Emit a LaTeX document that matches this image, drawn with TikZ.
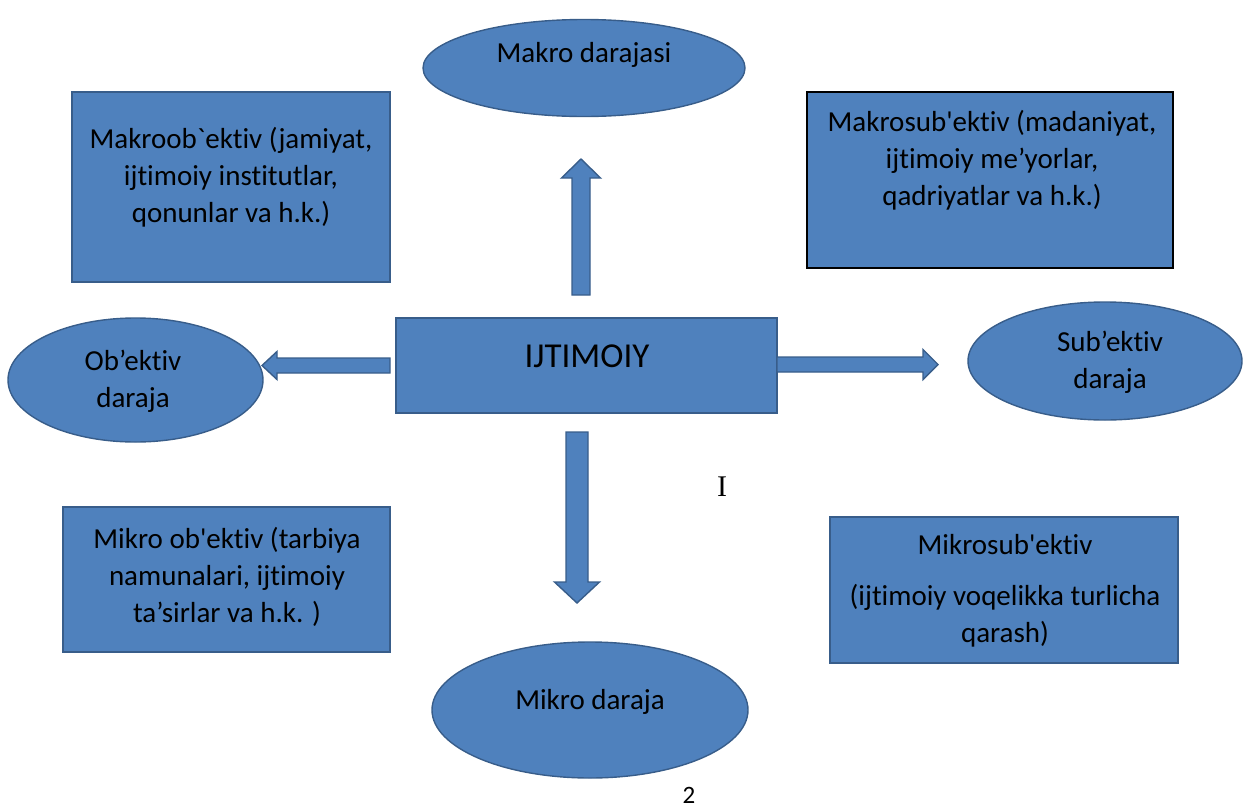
\documentclass[tikz,border=0pt]{standalone}
\usepackage{fontspec}
\setmainfont{Carlito}[Ligatures={TeXOff,NoCommon}]
\newfontfamily\seriffont{Liberation Serif}
\usetikzlibrary{shapes.geometric,calc}
\definecolor{bfill}{HTML}{4F81BD}
\definecolor{bline}{HTML}{385D8A}
\begin{document}
\begin{tikzpicture}[x=1pt,y=-1pt,
  shp/.style={draw=bline, fill=bfill, line width=1.4pt, inner sep=0pt, outer sep=0pt},
  bx/.style={shp, rectangle},
  ell/.style={shp, ellipse},
  txt/.style={font=\fontsize{29}{37}\selectfont, align=center, inner sep=0pt, text=black},
  barrow/.style={draw=bline, fill=bfill, line width=1.4pt, line join=miter}]
\useasboundingbox (0,0) rectangle (1243,809);
% shapes
\node[ell, minimum width=322, minimum height=97] (emakro) at (584,68) {};
\node[ell, minimum width=255, minimum height=124] (eob) at (135.5,380) {};
\node[ell, minimum width=274, minimum height=118] (esub) at (1105,361) {};
\node[ell, minimum width=316, minimum height=136] (emikro) at (590,710) {};
\node[bx, minimum width=318, minimum height=190] (bmo) at (231,187) {};
\node[bx, draw=black, line width=2pt, minimum width=366, minimum height=176] (bms) at (990,180) {};
\node[bx, minimum width=381, minimum height=95] (bij) at (586.5,365.5) {};
\node[bx, minimum width=327, minimum height=145] (bmio) at (226.5,579.5) {};
\node[bx, minimum width=348, minimum height=146] (bmis) at (1004,590) {};
% texts
\node[txt] (tmakro) at (584,55) {Makro darajasi};
\node[txt] (tob) at (133,381) {Ob’ektiv\\daraja};
\node[txt] (tsub) at (1110,362) {Sub’ektiv\\daraja};
\node[txt] (tmikro) at (590,702) {Mikro daraja};
\node[txt, font=\fontsize{35}{42}\selectfont] (tij) at (587,356) {IJTIMOIY};
\node[txt] (tmo) at (231,177) {Makroob`ektiv (jamiyat,\\ijtimoiy institutlar,\\qonunlar va h.k.)};
\node[txt] (tms) at (992,160) {Makrosub'ektiv (madaniyat,\\ijtimoiy me’yorlar,\\qadriyatlar va h.k.)};
\node[txt] (tmio) at (227,577) {Mikro ob'ektiv (tarbiya\\namunalari, ijtimoiy\\ta’sirlar va h.k. )};
\node[txt] (tmis) at (1005,591) {Mikrosub'ektiv\\[14pt](ijtimoiy voqelikka turlicha\\qarash)};
\node[txt, font=\seriffont\fontsize{30}{36}\selectfont] (tI) at (722,487) {I};
\node[txt, font=\fontsize{25}{30}\selectfont] (tnum) at (689,795) {2};
% arrow end points
\coordinate (upS) at (581,295);
\coordinate (upE) at (581,159);
\coordinate (dnS) at (577,432);
\coordinate (dnE) at (577,603);
\coordinate (ltS) at (390,365.5);
\coordinate (ltE) at (262,365.5);
\coordinate (rtS) at (777,364.5);
\coordinate (rtE) at (938,364.5);
% block arrows
\draw[barrow] ($(upS)+(-9,0)$) -- ($(upE)+(-9,19)$) -- ($(upE)+(-19.5,19)$) -- (upE)
  -- ($(upE)+(19.5,19)$) -- ($(upE)+(9,19)$) -- ($(upS)+(9,0)$) -- cycle;
\draw[barrow] ($(dnS)+(-11,0)$) -- ($(dnE)+(-11,-21)$) -- ($(dnE)+(-22.5,-21)$) -- (dnE)
  -- ($(dnE)+(22.5,-21)$) -- ($(dnE)+(11,-21)$) -- ($(dnS)+(11,0)$) -- cycle;
\draw[barrow] ($(ltS)+(0,-7.5)$) -- ($(ltE)+(15,-7.5)$) -- ($(ltE)+(15,-14)$) -- (ltE)
  -- ($(ltE)+(15,14)$) -- ($(ltE)+(15,7.5)$) -- ($(ltS)+(0,7.5)$) -- cycle;
\draw[barrow] ($(rtS)+(0,-7.5)$) -- ($(rtE)+(-15,-7.5)$) -- ($(rtE)+(-15,-15)$) -- (rtE)
  -- ($(rtE)+(-15,15)$) -- ($(rtE)+(-15,7.5)$) -- ($(rtS)+(0,7.5)$) -- cycle;
\end{tikzpicture}
\end{document}
